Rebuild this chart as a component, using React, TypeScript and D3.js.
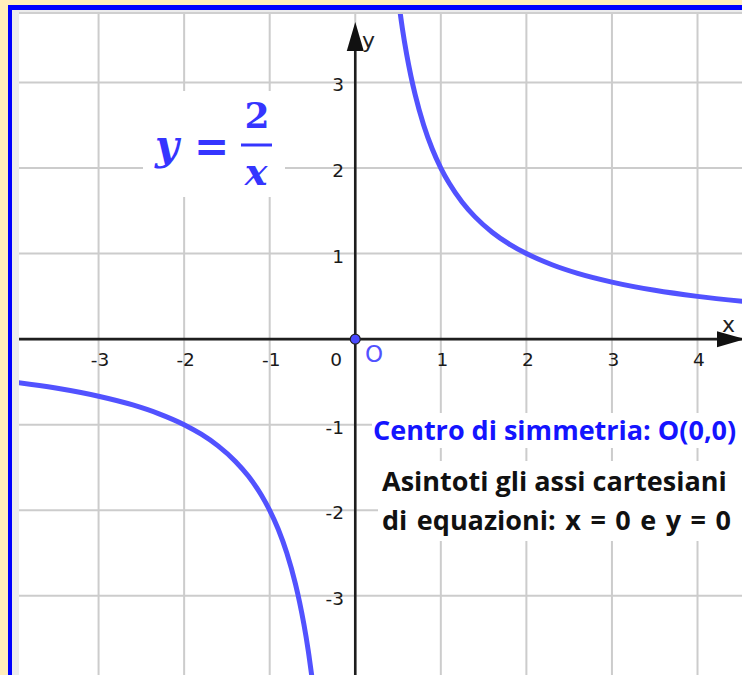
import React from "react";
import * as d3 from "d3";

// Canvas and plot window
const W = 742;
const H = 675;
const PLOT = { left: 19, top: 14, right: 742, bottom: 675 };

// Coordinate window (units)
const X_DOMAIN = [-3.93, 4.52];
const Y_DOMAIN = [-3.925, 3.8];

// Tick values
const X_TICKS = [-3, -2, -1, 1, 2, 3, 4];
const Y_TICKS = [-3, -2, -1, 1, 2, 3];
const GRID_X = [-3, -2, -1, 0, 1, 2, 3, 4];
const GRID_Y = [-3, -2, -1, 0, 1, 2, 3];

// Hyperbola y = 2/x, first-quadrant branch
const BRANCH_POS: [number, number][] = [
  [0.5, 4], [0.55, 3.636], [0.6, 3.333], [0.65, 3.077], [0.7, 2.857], [0.8, 2.5],
  [0.9, 2.222], [1, 2], [1.1, 1.818], [1.25, 1.6], [1.4, 1.429], [1.6, 1.25],
  [1.8, 1.111], [2, 1], [2.3, 0.87], [2.6, 0.769], [3, 0.667], [3.5, 0.571],
  [4, 0.5], [4.6, 0.435],
];
// third-quadrant branch
const BRANCH_NEG: [number, number][] = [
  [-4.6, -0.435], [-4, -0.5], [-3.5, -0.571], [-3, -0.667], [-2.6, -0.769],
  [-2.3, -0.87], [-2, -1], [-1.8, -1.111], [-1.6, -1.25], [-1.4, -1.429],
  [-1.25, -1.6], [-1.1, -1.818], [-1, -2], [-0.9, -2.222], [-0.8, -2.5],
  [-0.7, -2.857], [-0.65, -3.077], [-0.6, -3.333], [-0.55, -3.636], [-0.5, -4],
];

const CURVE_COLOR = "#5252ff";
const TEXT_BLUE = "#1414ff";
const EQ_BLUE = "#3535ff";

const fmt = (v: number) => (v < 0 ? "-" + Math.abs(v) : String(v));

export default function App() {
  const x = d3.scaleLinear().domain(X_DOMAIN).range([PLOT.left, PLOT.right]);
  const y = d3.scaleLinear().domain(Y_DOMAIN).range([PLOT.bottom, PLOT.top]);
  const x0 = x(0);
  const y0 = y(0);

  const line = d3
    .line<[number, number]>()
    .x((d) => x(d[0]))
    .y((d) => y(d[1]))
    .curve(d3.curveMonotoneX);

  const tickFont = { fontFamily: "DejaVu Sans", fontSize: "18.5px", fill: "#1a1a1a" };
  const bodyFont = "'Open Sans', 'DejaVu Sans', sans-serif";
  const bodySize = 27;

  return (
    <svg
      width={W}
      height={H}
      style={{ position: "absolute", left: 0, top: 0, display: "block" }}
    >
      <defs>
        <clipPath id="plot-clip">
          <rect x={PLOT.left} y={PLOT.top} width={PLOT.right - PLOT.left} height={PLOT.bottom - PLOT.top} />
        </clipPath>
      </defs>

      {/* page background and frame */}
      <rect x={0} y={0} width={W} height={H} fill="#ffeebb" />
      <rect x={8} y={5} width={W - 8} height={H - 5} fill="#0000ff" />
      <rect x={12} y={10} width={W - 12} height={H - 10} fill="#ececec" />
      <rect x={PLOT.left} y={12} width={W - PLOT.left} height={2} fill="#cfcfcf" />

      <g clipPath="url(#plot-clip)">
        <rect x={PLOT.left} y={PLOT.top} width={PLOT.right - PLOT.left} height={PLOT.bottom - PLOT.top} fill="#fff" />

        {/* grid */}
        {GRID_X.map((v) => (
          <line key={"gx" + v} x1={x(v)} x2={x(v)} y1={PLOT.top} y2={PLOT.bottom} stroke="#cccccc" strokeWidth={2} />
        ))}
        {GRID_Y.map((v) => (
          <line key={"gy" + v} x1={PLOT.left} x2={PLOT.right} y1={y(v)} y2={y(v)} stroke="#cccccc" strokeWidth={2} />
        ))}

        {/* label backgrounds */}
        <rect x={143} y={91} width={142} height={106} fill="#fff" />
        <rect x={372} y={413} width={370} height={35} fill="#fff" />
        <rect x={378} y={461} width={364} height={80} fill="#fff" />

        {/* axes */}
        <line x1={PLOT.left} x2={PLOT.right} y1={y0} y2={y0} stroke="#1e1e1e" strokeWidth={2.6} />
        <line x1={x0} x2={x0} y1={40} y2={PLOT.bottom} stroke="#1e1e1e" strokeWidth={2.6} />
        <path d={`M${x0},${22} L${x0 - 8.5},${51} L${x0 + 8.5},${51} Z`} fill="#111" />
        <path d={`M${745},${y0} L${717},${y0 - 8} L${717},${y0 + 8} Z`} fill="#111" />
        <text x={362} y={48} style={{ fontFamily: "DejaVu Sans", fontSize: 22, fill: "#222" }}>y</text>
        <text x={722} y={332} style={{ fontFamily: "DejaVu Sans", fontSize: 22, fill: "#222" }}>x</text>

        {/* tick labels */}
        {X_TICKS.map((v) => (
          <text key={"tx" + v} x={x(v) + 1.5} y={366} textAnchor="middle" style={tickFont}>
            {fmt(v)}
          </text>
        ))}
        <text x={342} y={366} textAnchor="end" style={tickFont}>0</text>
        {Y_TICKS.map((v) => (
          <text key={"ty" + v} x={344} y={y(v) + 9} textAnchor="end" style={tickFont}>
            {fmt(v)}
          </text>
        ))}

        {/* hyperbola branches */}
        <path d={line(BRANCH_POS) || ""} fill="none" stroke={CURVE_COLOR} strokeWidth={5} />
        <path d={line(BRANCH_NEG) || ""} fill="none" stroke={CURVE_COLOR} strokeWidth={5} />

        {/* centre of symmetry */}
        <circle cx={x0} cy={y0} r={5} fill="#4a4aff" stroke="#222" strokeWidth={1.2} />
        <text x={365} y={362} style={{ fontFamily: "DejaVu Sans", fontSize: 23, fill: CURVE_COLOR }}>O</text>

        {/* equation */}
        <text x={155} y={159} style={{ fontFamily: "DejaVu Serif", fontStyle: "italic", fontWeight: "bold", fontSize: 41, fill: EQ_BLUE }}>y</text>
        <text x={194} y={161} style={{ fontFamily: "DejaVu Sans", fontWeight: "bold", fontSize: 42, fill: EQ_BLUE }}>=</text>
        <text x={257} y={128} textAnchor="middle" style={{ fontFamily: "DejaVu Serif", fontWeight: "bold", fontSize: 36, fill: EQ_BLUE }}>2</text>
        <line x1={241} x2={272} y1={145} y2={145} stroke={EQ_BLUE} strokeWidth={3} />
        <text x={256} y={185} textAnchor="middle" style={{ fontFamily: "DejaVu Serif", fontStyle: "italic", fontWeight: "bold", fontSize: 38, fill: EQ_BLUE }}>x</text>

        {/* notes */}
        <text x={373} y={440} style={{ fontFamily: bodyFont, fontWeight: "bold", fontSize: bodySize, fill: TEXT_BLUE }}>
          Centro di simmetria: O(0,0)
        </text>
        <text x={382} y={491} style={{ fontFamily: bodyFont, fontWeight: "bold", fontSize: bodySize, fill: "#111" }}>
          Asintoti gli assi cartesiani
        </text>
        <text x={382} y={530} wordSpacing={2.5} style={{ fontFamily: bodyFont, fontWeight: "bold", fontSize: bodySize, fill: "#111" }}>
          di equazioni: x = 0 e y = 0
        </text>
      </g>
    </svg>
  );
}
